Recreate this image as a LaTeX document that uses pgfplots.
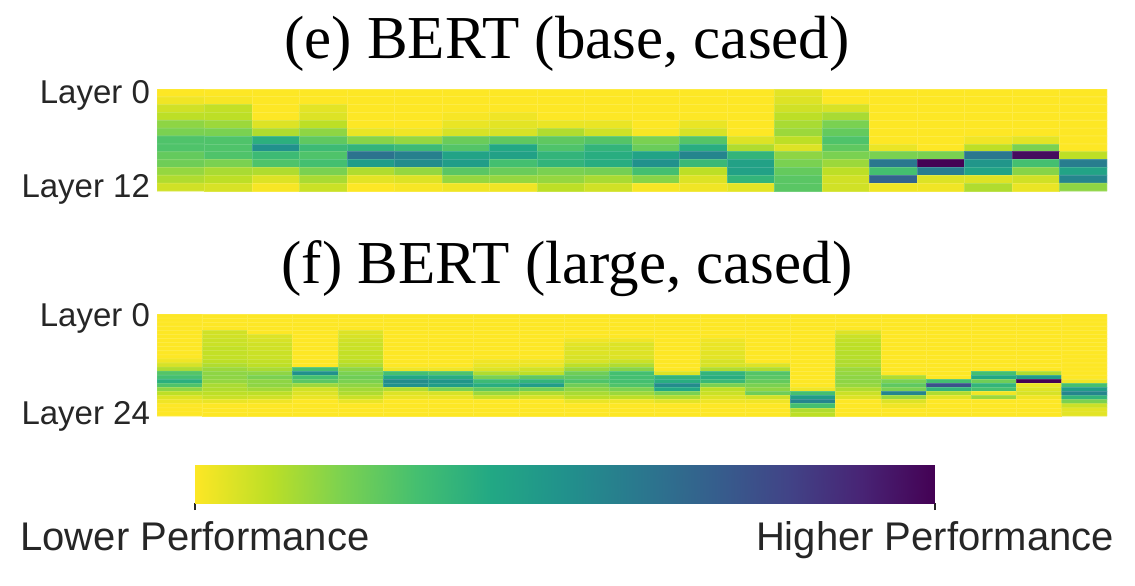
\documentclass[border=0pt]{standalone}
\usepackage{pgfplots}
\pgfplotsset{compat=1.18}
\usepackage{fontspec}
\setmainfont{Liberation Serif}
\setsansfont{Liberation Sans}
\definecolor{lab}{HTML}{262626}
\pgfplotsset{
  colormap={viridisr}{rgb255=(253,231,37) rgb255=(189,223,38) rgb255=(122,209,81) rgb255=(68,191,112) rgb255=(34,168,132) rgb255=(33,145,140) rgb255=(42,120,142) rgb255=(53,95,141) rgb255=(65,68,135) rgb255=(72,36,117) rgb255=(68,1,84)},
  heat/.style={
    scale only axis, width=475pt, height=51pt, anchor=north west,
    y dir=reverse, xtick=\empty, axis line style={draw=none},
    major tick length=0pt, point meta min=0, point meta max=1,
    enlargelimits=false, clip=true,
    yticklabel style={font=\sffamily\fontsize{16.5}{19}\selectfont, text=lab, yshift=-1pt},
  },
  cell/.style={matrix plot*, shader=faceted, faceted color=mapped color!85!white, line width=0.4pt, point meta=explicit},
}
\begin{document}
\begin{tikzpicture}
\useasboundingbox (0,0) rectangle (567.5pt,-292.5pt);
\node[font=\fontsize{30.5}{36}\selectfont, anchor=base] at (283.5pt,-29pt) {(e) BERT (base, cased)};
\node[font=\fontsize{30.5}{36}\selectfont, anchor=base] at (283.5pt,-141.5pt) {(f) BERT (large, cased)};
% top heatmap: 13 layers x 20 tasks
\begin{axis}[heat, at={(78.5pt,-44.5pt)}, xmin=0.5, xmax=20.5, ymin=-0.5, ymax=12.5,
  ytick={0,12}, yticklabels={Layer 0, Layer 12}]
\addplot[cell, mesh/cols=20, mesh/rows=13] table[header=false, row sep=\\, x expr={mod(\coordindex,20)+1}, y expr={floor((\coordindex+0.5)/20)}, meta index=0] {
0\\0\\0\\0\\0\\0\\0\\0\\0\\0\\0\\0\\0\\0.04\\0\\0\\0\\0\\0\\0\\
0.02\\0.01\\0\\0\\0\\0\\0\\0\\0\\0\\0\\0\\0\\0.05\\0\\0\\0\\0\\0\\0\\
0.07\\0.09\\0\\0.04\\0\\0\\0\\0\\0\\0\\0\\0\\0\\0.07\\0.06\\0\\0\\0\\0\\0\\
0.10\\0.10\\0\\0.05\\0\\0\\0.01\\0.02\\0\\0\\0\\0\\0\\0.10\\0.13\\0\\0\\0\\0\\0\\
0.17\\0.15\\0.05\\0.10\\0\\0\\0.03\\0.04\\0.03\\0.03\\0\\0.03\\0\\0.13\\0.20\\0\\0\\0\\0\\0\\
0.20\\0.20\\0.12\\0.17\\0.03\\0.02\\0.06\\0.06\\0.12\\0.07\\0.01\\0.06\\0\\0.15\\0.24\\0\\0\\0\\0\\0\\
0.28\\0.28\\0.37\\0.25\\0.18\\0.16\\0.23\\0.25\\0.25\\0.27\\0.20\\0.27\\0.05\\0.10\\0.28\\0\\0\\0.02\\0.04\\0\\
0.28\\0.28\\0.50\\0.32\\0.35\\0.32\\0.27\\0.40\\0.28\\0.35\\0.23\\0.38\\0.12\\0.05\\0.25\\0.03\\0\\0.10\\0.20\\0\\
0.24\\0.28\\0.32\\0.28\\0.62\\0.57\\0.42\\0.43\\0.35\\0.38\\0.42\\0.55\\0.35\\0.17\\0.20\\0.20\\0.20\\0.60\\0.97\\0.10\\
0.22\\0.20\\0.28\\0.30\\0.45\\0.52\\0.45\\0.30\\0.35\\0.38\\0.50\\0.33\\0.43\\0.20\\0.15\\0.60\\1.00\\0.48\\0.30\\0.58\\
0.16\\0.13\\0.12\\0.20\\0.12\\0.16\\0.26\\0.23\\0.20\\0.21\\0.30\\0.10\\0.43\\0.24\\0.10\\0.30\\0.58\\0.42\\0.18\\0.42\\
0.12\\0.10\\0.05\\0.13\\0.04\\0.05\\0.16\\0.16\\0.16\\0.13\\0.18\\0.05\\0.35\\0.26\\0.07\\0.68\\0.05\\0.05\\0.07\\0.55\\
0.07\\0.06\\0.01\\0.08\\0\\0.01\\0.02\\0.02\\0.10\\0.07\\0.01\\0.02\\0.04\\0.26\\0.07\\0.02\\0.02\\0.12\\0.03\\0.17\\
};
\end{axis}
% bottom heatmap: 25 layers x 21 tasks
\begin{axis}[heat, at={(78.5pt,-157pt)}, xmin=0.5, xmax=21.5, ymin=-0.5, ymax=24.5,
  ytick={0,24}, yticklabels={Layer 0, Layer 24}]
\addplot[cell, mesh/cols=21, mesh/rows=25, line width=0.3pt] table[header=false, row sep=\\, x expr={mod(\coordindex,21)+1}, y expr={floor((\coordindex+0.5)/21)}, meta index=0] {
0\\0\\0\\0\\0\\0\\0\\0\\0\\0\\0\\0\\0\\0\\0\\0\\0\\0\\0\\0\\0\\
0\\0\\0\\0\\0\\0\\0\\0\\0\\0\\0\\0\\0\\0\\0\\0\\0\\0\\0\\0\\0\\
0\\0\\0\\0\\0\\0\\0\\0\\0\\0\\0\\0\\0\\0\\0\\0\\0\\0\\0\\0\\0\\
0\\0\\0\\0\\0\\0\\0\\0\\0\\0\\0\\0\\0\\0\\0\\0\\0\\0\\0\\0\\0\\
0\\0.07\\0\\0\\0.05\\0\\0\\0\\0\\0\\0\\0\\0\\0\\0\\0.05\\0\\0\\0\\0\\0\\
0\\0.07\\0.05\\0\\0.06\\0\\0\\0\\0\\0\\0\\0\\0\\0\\0\\0.08\\0\\0\\0\\0\\0\\
0\\0.08\\0.06\\0\\0.07\\0\\0\\0\\0\\0.02\\0.02\\0\\0.02\\0\\0\\0.09\\0\\0\\0\\0\\0\\
0\\0.08\\0.07\\0\\0.08\\0\\0\\0\\0\\0.04\\0.05\\0\\0.03\\0\\0\\0.10\\0\\0\\0\\0\\0\\
0\\0.09\\0.07\\0\\0.08\\0\\0\\0\\0\\0.05\\0.05\\0\\0.03\\0\\0\\0.10\\0\\0\\0\\0\\0\\
0\\0.09\\0.08\\0\\0.09\\0\\0\\0\\0\\0.05\\0.05\\0\\0.04\\0\\0\\0.11\\0\\0\\0\\0\\0\\
0\\0.09\\0.08\\0\\0.09\\0\\0\\0\\0\\0.06\\0.05\\0\\0.04\\0\\0\\0.11\\0\\0\\0\\0\\0\\
0.02\\0.10\\0.09\\0\\0.10\\0\\0\\0.02\\0.02\\0.06\\0.08\\0\\0.06\\0\\0\\0.12\\0\\0\\0\\0\\0\\
0.06\\0.12\\0.10\\0\\0.12\\0\\0\\0.03\\0.03\\0.10\\0.12\\0\\0.06\\0.05\\0\\0.12\\0\\0\\0\\0\\0\\
0.12\\0.15\\0.13\\0.30\\0.17\\0.02\\0.02\\0.05\\0.07\\0.15\\0.18\\0\\0.12\\0.12\\0\\0.15\\0\\0\\0\\0\\0\\
0.27\\0.17\\0.17\\0.50\\0.20\\0.30\\0.28\\0.12\\0.10\\0.22\\0.30\\0.05\\0.35\\0.27\\0\\0.16\\0\\0\\0.30\\0.12\\0\\
0.30\\0.17\\0.20\\0.30\\0.22\\0.40\\0.38\\0.20\\0.25\\0.25\\0.30\\0.35\\0.38\\0.26\\0\\0.17\\0.12\\0\\0.40\\0.45\\0\\
0.37\\0.16\\0.17\\0.26\\0.20\\0.52\\0.48\\0.32\\0.35\\0.28\\0.30\\0.38\\0.33\\0.24\\0\\0.17\\0.20\\0.30\\0.22\\1.00\\0.02\\
0.28\\0.13\\0.17\\0.15\\0.17\\0.50\\0.45\\0.38\\0.45\\0.22\\0.28\\0.52\\0.20\\0.20\\0\\0.16\\0.25\\0.75\\0.35\\0.03\\0.30\\
0.17\\0.12\\0.14\\0.07\\0.14\\0.12\\0.20\\0.25\\0.22\\0.17\\0.20\\0.40\\0.10\\0.17\\0.02\\0.12\\0.20\\0.35\\0.30\\0.05\\0.45\\
0.10\\0.10\\0.10\\0.05\\0.12\\0.05\\0.06\\0.15\\0.12\\0.13\\0.15\\0.20\\0.08\\0.22\\0.30\\0.08\\0.55\\0.12\\0.02\\0.06\\0.55\\
0.05\\0.08\\0.07\\0.03\\0.08\\0.03\\0.03\\0.08\\0.06\\0.10\\0.10\\0.12\\0.05\\0.07\\0.45\\0.05\\0.15\\0.04\\0.15\\0.02\\0.35\\
0.02\\0.03\\0.02\\0\\0.03\\0\\0\\0\\0\\0.03\\0.02\\0.04\\0.02\\0.02\\0.55\\0\\0.05\\0\\0\\0\\0.20\\
0\\0\\0\\0\\0\\0\\0\\0\\0\\0\\0\\0\\0\\0\\0.30\\0\\0.02\\0\\0\\0\\0.08\\
0\\0\\0\\0\\0\\0\\0\\0\\0\\0\\0\\0\\0\\0\\0.12\\0\\0\\0\\0\\0\\0.04\\
0\\0\\0\\0\\0\\0\\0\\0\\0\\0\\0\\0\\0\\0\\0.10\\0\\0\\0\\0\\0\\0.04\\
};
\end{axis}
% colour bar
\begin{axis}[scale only axis, at={(97.5pt,-232.5pt)}, anchor=north west, width=370pt, height=19pt,
  xmin=0, xmax=1, ymin=0, ymax=1, enlargelimits=false, ytick=\empty,
  xtick={0,1}, xticklabels={Lower Performance, Higher Performance},
  xtick pos=bottom, tick align=outside, major tick length=3.5pt,
  tick style={lab, line width=0.6pt}, axis line style={draw=none},
  xticklabel style={font=\sffamily\fontsize{20}{24}\selectfont, text=lab, yshift=-2pt},
  point meta min=0, point meta max=1]
\addplot[surf, shader=interp, point meta=x, mesh/cols=11, mesh/rows=2] coordinates {
(0,0) (0.1,0) (0.2,0) (0.3,0) (0.4,0) (0.5,0) (0.6,0) (0.7,0) (0.8,0) (0.9,0) (1,0)
(0,1) (0.1,1) (0.2,1) (0.3,1) (0.4,1) (0.5,1) (0.6,1) (0.7,1) (0.8,1) (0.9,1) (1,1)
};
\end{axis}
\end{tikzpicture}
\end{document}
